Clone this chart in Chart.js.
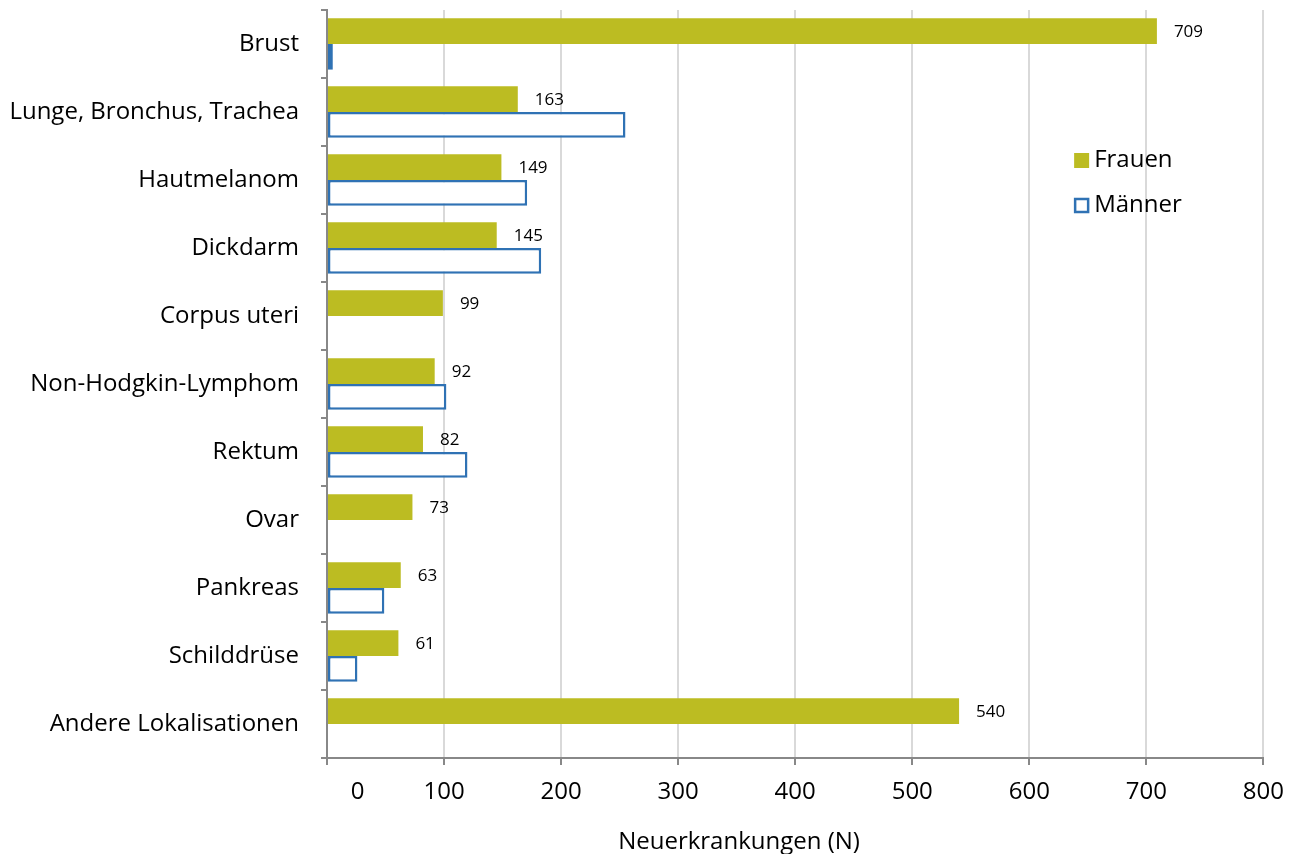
<!DOCTYPE html>
<html>
<head>
<meta charset="utf-8">
<script src="https://cdn.jsdelivr.net/npm/chart.js@4.4.0/dist/chart.umd.min.js"></script>
<style>
  html, body { margin: 0; padding: 0; background: #fff; }
  #wrap { position: relative; width: 1297px; height: 854px; }
</style>
</head>
<body>
<div id="wrap"><canvas id="chart" width="1297" height="854"></canvas></div>
<script>
  // --- Data ---
  const categories = ['Brust', 'Lunge, Bronchus, Trachea', 'Hautmelanom', 'Dickdarm', 'Corpus uteri',
    'Non-Hodgkin-Lymphom', 'Rektum', 'Ovar', 'Pankreas', 'Schilddrüse', 'Andere Lokalisationen'];
  const frauen = [709, 163, 149, 145, 99, 92, 82, 73, 63, 61, 540];
  const maenner = [5, 255, 171, 183, null, 102, 120, null, 49, 26, null];
  const xTicks = [0, 100, 200, 300, 400, 500, 600, 700, 800];
  const xTitle = 'Neuerkrankungen (N)';

  const olive = '#bcbc22';
  const blue = '#2f72b4';
  const font = "'Open Sans', 'Noto Sans', sans-serif";

  // --- Value labels on the Frauen bars, legend and axis title ---
  const labelPlugin = {
    id: 'labels',
    afterDatasetsDraw(chart) {
      const ctx = chart.ctx;
      const meta = chart.getDatasetMeta(0);
      ctx.save();
      ctx.font = '17px ' + font;
      ctx.fillStyle = '#000';
      ctx.textAlign = 'left';
      ctx.textBaseline = 'middle';
      meta.data.forEach((bar, i) => {
        ctx.fillText(String(frauen[i]), bar.x + 17, bar.y + 1);
      });

      // legend
      const lx = chart.scales.x.getPixelForValue(640);
      const ly1 = 160, ly2 = 205;
      ctx.fillStyle = olive;
      ctx.fillRect(lx - 2, ly1 - 7, 15, 15);
      ctx.strokeStyle = blue;
      ctx.lineWidth = 2.5;
      ctx.strokeRect(lx - 1, ly2 - 6, 13, 13);
      ctx.fillStyle = '#000';
      ctx.font = '24px ' + font;
      ctx.fillText('Frauen', lx + 18, ly1);
      ctx.fillText('Männer', lx + 18, ly2);

      // axis title (sits left of the plot centre in the original)
      ctx.textAlign = 'center';
      ctx.fillText(xTitle, chart.scales.x.getPixelForValue(352), 842);
      ctx.restore();
    }
  };

  new Chart(document.getElementById('chart'), {
    type: 'bar',
    data: {
      labels: categories,
      datasets: [
        {
          label: 'Frauen',
          data: frauen,
          backgroundColor: olive,
          borderWidth: 0,
          categoryPercentage: 0.76,
          barPercentage: 1
        },
        {
          label: 'Männer',
          data: maenner,
          backgroundColor: '#ffffff',
          borderColor: blue,
          borderWidth: 2.5,
          borderSkipped: false,
          categoryPercentage: 0.76,
          barPercentage: 1
        }
      ]
    },
    options: {
      indexAxis: 'y',
      responsive: false,
      animation: false,
      layout: { padding: { top: 10, right: 33, left: 0, bottom: 0 } },
      plugins: {
        legend: { display: false },
        tooltip: { enabled: false }
      },
      scales: {
        x: {
          min: 0,
          max: 800,
          afterBuildTicks: (scale) => { scale.ticks = xTicks.map(v => ({ value: v })); },
          afterFit: (scale) => { scale.height = 96; },
          border: { color: '#888888', width: 2 },
          grid: {
            color: '#d9d9d9',
            lineWidth: 2,
            tickColor: '#888888',
            tickLength: 7
          },
          ticks: {
            color: '#000',
            font: { family: font, size: 24 },
            padding: 13,
            maxRotation: 0,
            // the zero label sits a little right of the axis in the original
            callback: (v) => v === 0 ? '\u2007\u2007\u2007\u2007 0' : String(v)
          }
        },
        y: {
          afterFit: (scale) => {
            scale.width = 327;
            scale.paddingTop = 0;
            scale.paddingBottom = 0;
          },
          border: { color: '#888888', width: 2 },
          grid: {
            drawOnChartArea: false,
            offset: true,
            tickColor: '#888888',
            tickLength: 6,
            lineWidth: 2
          },
          ticks: {
            color: '#000',
            font: { family: font, size: 24 },
            padding: 22,
            autoSkip: false
          }
        }
      }
    },
    plugins: [labelPlugin]
  });
</script>
</body>
</html>
